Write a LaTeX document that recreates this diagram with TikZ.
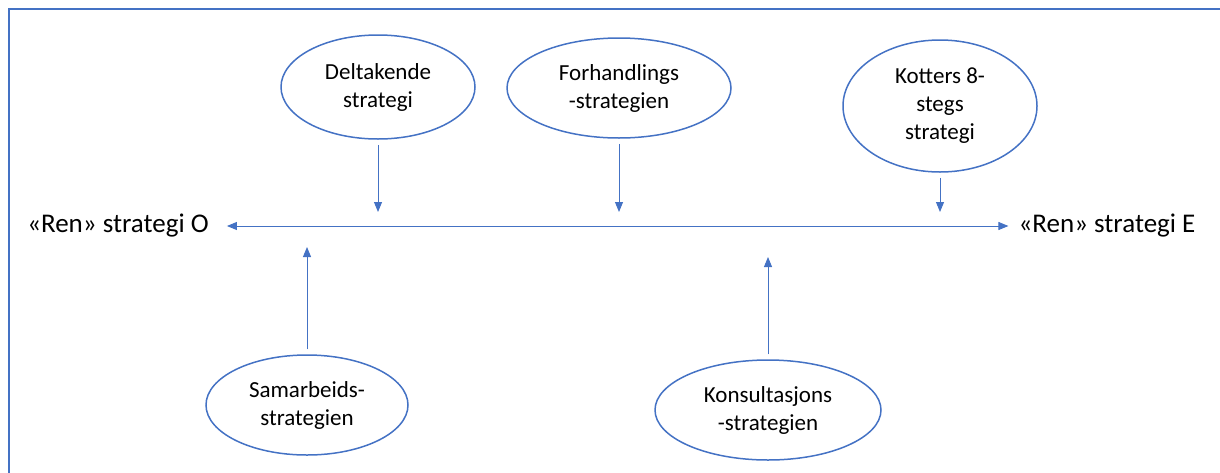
\documentclass[tikz,border=0pt]{standalone}
\usepackage{fontspec}
\setmainfont{Carlito}
\usetikzlibrary{shapes.geometric,arrows.meta}
\definecolor{ofblue}{HTML}{4472C4}

\begin{document}
\begin{tikzpicture}[x=1pt, y=-1pt, every text node part/.style={align=center},
  strat/.style={ellipse, draw=ofblue, line width=1.5pt, inner sep=0pt, font=\fontsize{23}{28}\selectfont},
  pole/.style={inner sep=0pt, font=\fontsize{27}{32}\selectfont},
  link/.style={draw=ofblue, line width=0.9pt, -{Triangle[length=10pt,width=8pt]}},
  frame/.style={draw=ofblue, line width=1.6pt}]
\useasboundingbox (0,0) rectangle (1220,472);
\draw [frame] (9,480) -- (9,9) -- (1230,9);

% the two poles
\node [pole] (lblO) at (118,226) {«Ren» strategi O};
\node [pole] (lblE) at (1107,226) {«Ren» strategi E};
\coordinate (hi) at (0,212);
\coordinate (loA) at (0,247);
\coordinate (loB) at (0,257);

% strategies above and below
\node [strat, minimum width=194pt, minimum height=104pt] (delt) at (378,87) {Deltakende\\strategi};
\node [strat, minimum width=224pt, minimum height=100pt] (forh) at (619,88) {Forhandlings\\-strategien};
\node [strat, minimum width=194pt, minimum height=132pt] (kott) at (940,106) {Kotters 8-\\stegs\\strategi};
\node [strat, minimum width=202pt, minimum height=100pt] (samb) at (307,405) {Samarbeids-\\strategien};
\node [strat, minimum width=226pt, minimum height=100pt] (kons) at (768,410) {Konsultasjons\\-strategien};

\draw [link, {Triangle[length=10pt,width=8pt]}-{Triangle[length=10pt,width=8pt]}, shorten <=18pt, shorten >=10pt] (lblO) -- (lblE);
\draw [link, shorten <=5pt] (delt.south) -- (delt.south |- hi);
\draw [link, shorten <=5pt] (forh.south) -- (forh.south |- hi);
\draw [link, shorten <=5pt] (kott.south) -- (kott.south |- hi);
\draw [link, shorten <=5pt] (samb.north) -- (samb.north |- loA);
\draw [link, shorten <=5pt] (kons.north) -- (kons.north |- loB);

\end{tikzpicture}
\end{document}
